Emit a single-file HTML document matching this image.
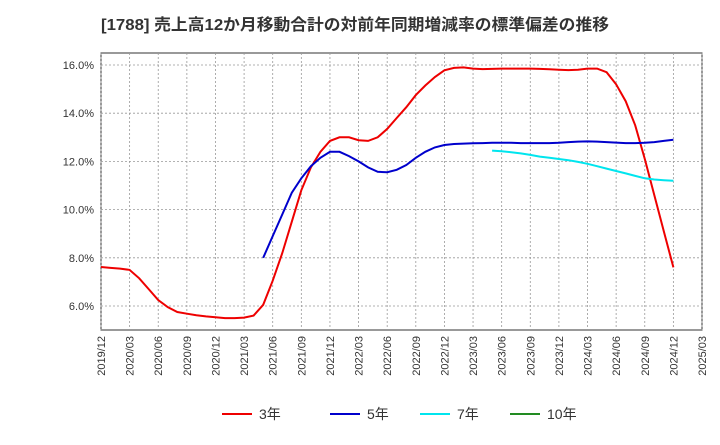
<!DOCTYPE html>
<html><head><meta charset="utf-8"><style>
body{margin:0;background:#fff;font-family:"Liberation Sans","Noto Sans CJK JP",sans-serif;}
svg text{font-family:"Liberation Sans","Noto Sans CJK JP",sans-serif;}
</style></head><body>
<svg id="chart" width="720" height="440" xmlns="http://www.w3.org/2000/svg">
<text x="101" y="30" font-size="16" font-weight="bold" fill="#333" textLength="508" lengthAdjust="spacingAndGlyphs">[1788]  売上高12か月移動合計の対前年同期増減率の標準偏差の推移</text>
<rect x="101" y="53" width="601" height="277" fill="#fff" stroke="#333" stroke-width="1"/>
<g id="grid"></g><g id="axes"></g><g id="series"></g>
<g font-size="14" fill="#333">
<line x1="222" y1="414" x2="252" y2="414" stroke="#e00" stroke-width="2"/><text x="259" y="419">3年</text>
<line x1="330" y1="414" x2="360" y2="414" stroke="#0000cc" stroke-width="2"/><text x="367" y="419">5年</text>
<line x1="420" y1="414" x2="450" y2="414" stroke="#00e5ee" stroke-width="2"/><text x="457" y="419">7年</text>
<line x1="510" y1="414" x2="540" y2="414" stroke="#228b22" stroke-width="2"/><text x="547" y="419">10年</text>
</g>
</svg>
<script>
const yTicks=[6,8,10,12,14,16];
const xTickLabels=["2019/12","2020/03","2020/06","2020/09","2020/12","2021/03","2021/06","2021/09","2021/12","2022/03","2022/06","2022/09","2022/12","2023/03","2023/06","2023/09","2023/12","2024/03","2024/06","2024/09","2024/12","2025/03"];
const s3Start=0;
const s3=[7.62,7.58,7.55,7.5,7.15,6.7,6.25,5.95,5.75,5.68,5.62,5.57,5.53,5.5,5.5,5.52,5.6,6.05,7.05,8.2,9.5,10.8,11.75,12.4,12.85,13.0,13.0,12.88,12.85,13.0,13.35,13.8,14.25,14.75,15.15,15.5,15.78,15.88,15.9,15.85,15.83,15.84,15.85,15.85,15.85,15.85,15.84,15.82,15.8,15.79,15.8,15.85,15.85,15.7,15.2,14.5,13.5,12.1,10.6,9.1,7.6];
const s5Start=17;
const s5=[8.0,8.9,9.8,10.7,11.3,11.8,12.15,12.4,12.4,12.22,12.0,11.75,11.57,11.55,11.65,11.85,12.15,12.4,12.58,12.68,12.72,12.74,12.75,12.76,12.77,12.77,12.77,12.76,12.76,12.76,12.76,12.77,12.8,12.82,12.83,12.82,12.8,12.78,12.76,12.76,12.77,12.8,12.85,12.9];
const s7Start=41;
const s7=[12.45,12.42,12.38,12.33,12.27,12.2,12.15,12.1,12.05,11.98,11.9,11.8,11.7,11.6,11.5,11.4,11.3,11.25,11.22,11.2];
const NS="http://www.w3.org/2000/svg";
const X0=101,X1=702,NM=63;
function xs(i){return X0+(X1-X0)*i/NM;}
function ys(v){return 65+(16-v)*24.1;}
const grid=document.getElementById('grid'),axes=document.getElementById('axes'),ser=document.getElementById('series');
function mk(tag,at,p){const e=document.createElementNS(NS,tag);for(const k in at)e.setAttribute(k,at[k]);p.appendChild(e);return e;}
yTicks.forEach(v=>{
 const l=mk('line',{x1:X0,x2:X1,y1:ys(v),y2:ys(v),stroke:'#999','stroke-dasharray':'2,2','stroke-width':0.8},grid);
 
 
 const t=mk('text',{x:94,y:ys(v)+4,'text-anchor':'end','font-size':11,fill:'#333'},axes);
 t.textContent=v.toFixed(1)+'%';
 
 
});
xTickLabels.forEach((s,k)=>{
 const x=xs(k*3);
 const l=mk('line',{x1:x,x2:x,y1:53,y2:330,stroke:'#999','stroke-dasharray':'2,2','stroke-width':0.8},grid);
 
 
 const t=mk('text',{x:0,y:0,'text-anchor':'end','font-size':11,fill:'#333',transform:`translate(${x+4},336) rotate(-90)`},axes);
 t.textContent=s;
 
 
});
function line(arr,start,color,name){
 const d=arr.map((v,i)=>(i?'L':'M')+xs(start+i).toFixed(1)+','+ys(v).toFixed(1)).join('');
 const p=mk('path',{d:d,fill:'none',stroke:color,'stroke-width':2},ser);
 
 
}
line(s3,s3Start,'#e00','series-3y');
line(s5,s5Start,'#0000cc','series-5y');
line(s7,s7Start,'#00e5ee','series-7y');
</script>
</body></html>
